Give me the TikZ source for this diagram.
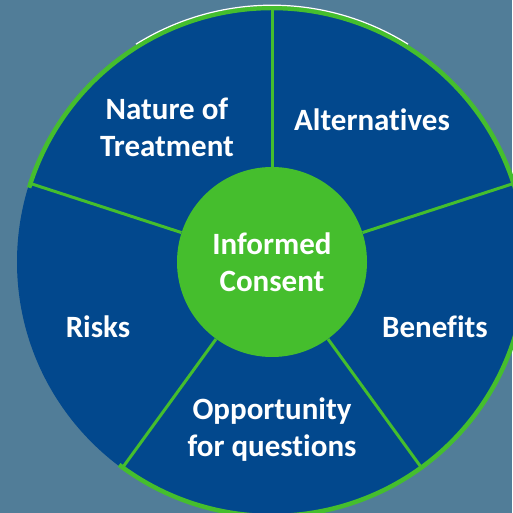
\documentclass[tikz,border=0pt]{standalone}
\usepackage{fontspec}
\setmainfont{Carlito}[RawFeature=-liga]
\usetikzlibrary{calc}

\definecolor{slate}{RGB}{81,125,152}
\definecolor{wheelblue}{RGB}{2,72,141}
\definecolor{wheelgreen}{RGB}{69,190,45}

\tikzset{
  seglabel/.style={text=white, font=\bfseries\fontsize{31}{37}\selectfont, align=center},
  spoke/.style={wheelgreen, line width=3pt}
}

\begin{document}
\begin{tikzpicture}[x=1pt,y=1pt]
		\useasboundingbox (0,0) rectangle (512,513);
		\fill[slate] (0,0) rectangle (512,513);
		
		\coordinate (c) at (272,251);
		\fill[wheelblue] (c) circle (255);
		\draw[wheelgreen, line width=4.5pt] ($(c)+(-127:254)$) arc (-127:163:254);
		\draw[white, line width=1.2pt] ($(c)+(58:256.8)$) arc (58:122:256.8);
		
		\coordinate (rimA) at ($(c)+(90:256)$);
		\coordinate (rimB) at ($(c)+(18:256)$);
		\coordinate (rimC) at ($(c)+(-54:256)$);
		\coordinate (rimD) at ($(c)+(-126:256)$);
		\coordinate (rimE) at ($(c)+(162:256)$);
		
		\node[circle, fill=wheelgreen, minimum size=190pt, inner sep=0pt, seglabel] (consent) at (c) {Informed\\Consent};
		
		\draw[spoke] (consent) -- (rimA);
		\draw[spoke] (consent) -- (rimB);
		\draw[spoke] (consent) -- (rimC);
		\draw[spoke] (consent) -- (rimD);
		\draw[spoke] (consent) -- (rimE);
		
		\node[seglabel] (nature) at (167,386) {Nature of\\Treatment};
		\node[seglabel] (altern) at (372,393) {Alternatives};
		\node[seglabel] (benefits) at (435,186) {Benefits};
		\node[seglabel] (questions) at (272,83) {Opportunity\\for questions};
		\node[seglabel] (risks) at (98,186) {Risks};
	\end{tikzpicture}
\end{document}
